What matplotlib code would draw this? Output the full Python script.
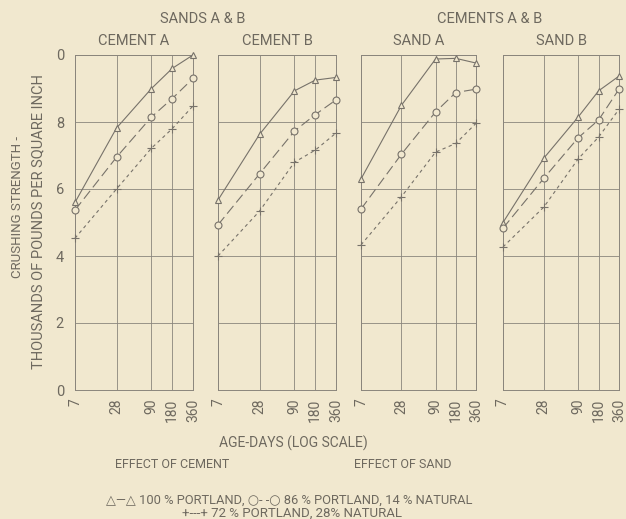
import matplotlib
matplotlib.use("Agg")
import matplotlib.pyplot as plt
from matplotlib.ticker import FixedLocator, NullLocator

# === DATI ===
days = [7, 28, 90, 180, 360]
day_labels = ["7", "28", "90", "180", "360"]
y_ticks = [0, 2, 4, 6, 8, 10]
y_labels = ["0", "2", "4", "6", "8", "0"]

panel_titles = ["CEMENT A", "CEMENT B", "SAND A", "SAND B"]

portland_100 = [
    [5.6, 7.82, 9.0, 9.6, 10.0],
    [5.67, 7.63, 8.93, 9.25, 9.33],
    [6.3, 8.5, 9.88, 9.9, 9.76],
    [5.0, 6.92, 8.15, 8.93, 9.37],
]
portland_86 = [
    [5.37, 6.95, 8.15, 8.7, 9.3],
    [4.93, 6.45, 7.73, 8.22, 8.66],
    [5.4, 7.04, 8.3, 8.88, 8.98],
    [4.83, 6.32, 7.53, 8.06, 8.98],
]
portland_72 = [
    [4.53, 6.0, 7.22, 7.8, 8.48],
    [4.0, 5.34, 6.8, 7.16, 7.67],
    [4.33, 5.77, 7.1, 7.36, 7.96],
    [4.27, 5.46, 6.9, 7.55, 8.38],
]

# === STILE ===
BG = "#f1e8cf"
INK = "#6e695f"
LINE = "#77726a"
GRID = "#8a857c"
plt.rcParams["font.family"] = ["Roboto", "DejaVu Sans"]
plt.rcParams["text.color"] = INK

fig = plt.figure(figsize=(6.26, 5.19), dpi=100, facecolor=BG)
W, H = 626, 519
lefts = [75, 218, 361, 503]
widths = [118, 118, 115, 116]
top, bottom = 55, 390

for i in range(4):
    ax = fig.add_axes([lefts[i] / W, 1 - bottom / H, widths[i] / W, (bottom - top) / H])
    ax.set_facecolor(BG)
    ax.set_xscale("log")
    ax.set_xlim(7, 360)
    ax.set_ylim(0, 10)
    ax.xaxis.set_major_locator(FixedLocator(days))
    ax.xaxis.set_minor_locator(NullLocator())
    ax.set_xticklabels(day_labels, rotation=90, fontsize=10, color=INK)
    ax.set_yticks(y_ticks)
    if i == 0:
        ax.set_yticklabels(y_labels, fontsize=10.5, color=INK)
    else:
        ax.set_yticklabels([])
    ax.tick_params(axis="y", length=0, pad=8)
    ax.tick_params(axis="x", length=0, pad=6)
    ax.grid(True, color=GRID, lw=0.6)
    for s in ax.spines.values():
        s.set_color(GRID)
        s.set_linewidth(0.7)

    ax.plot(days, portland_100[i], color=LINE, lw=0.8, ls="-", marker="^",
            mfc=BG, mec=LINE, ms=5, mew=0.8, clip_on=False, zorder=3)
    ax.plot(days, portland_86[i], color=LINE, lw=0.8, ls=(0, (9, 4)), marker="o",
            mfc=BG, mec=LINE, ms=5, mew=0.8, clip_on=False, zorder=3)
    ax.plot(days, portland_72[i], color=LINE, lw=0.8, ls=(0, (3, 3)), marker="+",
            mec=LINE, ms=6, mew=0.8, clip_on=False, zorder=3)
    ax.set_title(panel_titles[i], fontsize=10.5, color=INK, pad=7, fontweight="normal")

# titoli di gruppo
fig.text(203 / W, 1 - 19 / H, "SANDS A & B", ha="center", va="center", fontsize=10.5)
fig.text(490 / W, 1 - 19 / H, "CEMENTS A & B", ha="center", va="center", fontsize=10.5)

# etichetta asse y
fig.text(18 / W, 1 - 207 / H, "CRUSHING STRENGTH -", rotation=90,
         ha="center", va="center", fontsize=9.5)
fig.text(38 / W, 1 - 222 / H, "THOUSANDS OF POUNDS PER SQUARE INCH", rotation=90,
         ha="center", va="center", fontsize=10.5)

# testi in basso
fig.text(293 / W, 1 - 443 / H, "AGE-DAYS (LOG SCALE)", ha="center", va="center", fontsize=10)
fig.text(172 / W, 1 - 465 / H, "EFFECT OF CEMENT", ha="center", va="center", fontsize=9)
fig.text(403 / W, 1 - 465 / H, "EFFECT OF SAND", ha="center", va="center", fontsize=9)
fig.text(289 / W, 1 - 500 / H,
         "\u25b3\u2014\u25b3 100 % PORTLAND, \u25cb- -\u25cb 86 % PORTLAND, 14 % NATURAL",
         ha="center", va="center", fontsize=9.3)
fig.text(292 / W, 1 - 513 / H, "+---+ 72 % PORTLAND, 28% NATURAL",
         ha="center", va="center", fontsize=9.5)

fig.savefig("out.png", dpi=100, facecolor=BG)
